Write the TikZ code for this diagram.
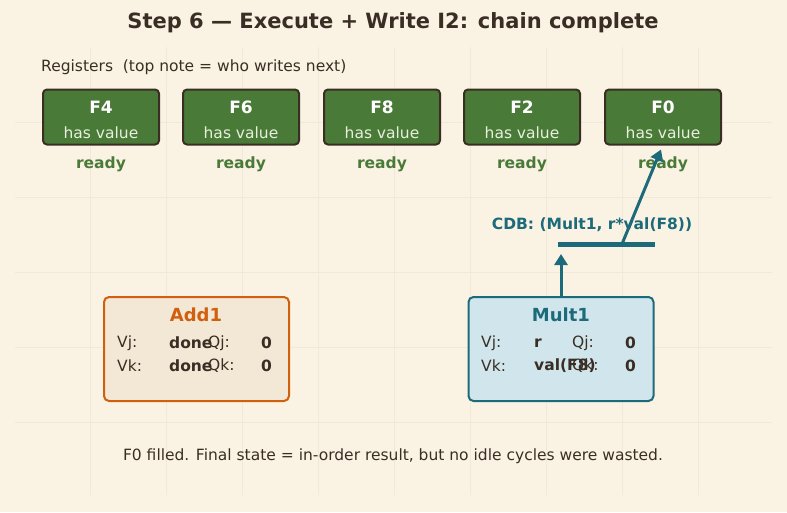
\documentclass[tikz,border=0pt]{standalone}
\usepackage{fontspec}
\setmainfont{DejaVu Sans}
\usetikzlibrary{arrows.meta}
\definecolor{paper}{HTML}{FAF3E4}
\definecolor{gridc}{HTML}{F1E9D8}
\definecolor{ink}{HTML}{3A2E24}
\definecolor{regfill}{HTML}{4A7A38}
\definecolor{regtxt}{HTML}{E6F0DC}
\definecolor{readyc}{HTML}{4A7A38}
\definecolor{teal}{HTML}{1D6A7A}
\definecolor{tealfill}{HTML}{D0E6EC}
\definecolor{orng}{HTML}{D0600E}
\definecolor{orngfill}{HTML}{F3E8D6}
\tikzset{
  reg/.style={draw=ink, line width=2pt, fill=regfill, rounded corners=4pt,
    minimum width=116pt, minimum height=55pt},
  rs/.style={line width=2pt, rounded corners=5pt, minimum width=185pt, minimum height=104pt},
  txt/.style={font=\fontsize{15.5}{18}\selectfont, text=ink, inner sep=0pt},
  btxt/.style={txt, font=\fontsize{15.5}{18}\selectfont\bfseries},
  cdbarrow/.style={teal, line width=3pt, -{Triangle[length=11pt, width=13pt]}}
}
\begin{document}
\begin{tikzpicture}[x=1pt, y=-1pt]
  \fill[paper] (0,0) rectangle (787,512);
  \useasboundingbox (0,0) rectangle (787,512);
  % faint grid
  \foreach \gx in {90,166,242,318,394,470,546,622,698}
    \draw[gridc, line width=0.8pt] (\gx,47) -- (\gx,495);
  \foreach \gy in {122,197,272,347,422}
    \draw[gridc, line width=0.8pt] (15,\gy) -- (772,\gy);

  \node[font=\fontsize{21}{24}\selectfont\bfseries, text=ink] (title) at (393,23) {Step 6 — Execute + Write I2: chain complete};
  \node[txt, anchor=west] (reglabel) at (41,67) {Registers\ \ (top note = who writes next)};

  % registers
  \foreach \name/\rx in {F4/101, F6/241, F8/382, F2/522, F0/663} {
    \node[reg] (r\name) at (\rx,117) {};
    \node[font=\fontsize{17}{20}\selectfont\bfseries, text=white] at (\rx,107) {\name};
    \node[font=\fontsize{15.5}{18}\selectfont, text=regtxt] at (\rx,133) {has value};
    \node[btxt, text=readyc] at (\rx,164) {ready};
  }

  % reservation stations
  \node[rs, draw=orng, fill=orngfill] (add1) at (196.5,349) {};
  \node[font=\fontsize{18}{21}\selectfont\bfseries, text=orng] at (196,315) {Add1};
  \node[txt, anchor=west] at (117,343) {Vj:};
  \node[btxt, anchor=west] at (169,343) {done};
  \node[txt, anchor=west] at (208,343) {Qj:};
  \node[btxt, anchor=east] at (272,343) {0};
  \node[txt, anchor=west] at (117,366) {Vk:};
  \node[btxt, anchor=west] at (169,366) {done};
  \node[txt, anchor=west] at (208,366) {Qk:};
  \node[btxt, anchor=east] at (272,366) {0};

  \node[rs, draw=teal, fill=tealfill] (mult1) at (561,349) {};
  \node[font=\fontsize{18}{21}\selectfont\bfseries, text=teal] at (561,315) {Mult1};
  \node[txt, anchor=west] at (481,343) {Vj:};
  \node[btxt, anchor=west] at (534,343) {r};
  \node[txt, anchor=west] at (572,343) {Qj:};
  \node[btxt, anchor=east] at (636,343) {0};
  \node[txt, anchor=west] at (481,366) {Vk:};
  \node[btxt, anchor=west] at (534,366) {val(F8)};
  \node[txt, anchor=west] at (572,366) {Qk:};
  \node[btxt, anchor=east] at (636,366) {0};

  % common data bus
  \node[btxt, text=teal] (cdblabel) at (592,225) {CDB: (Mult1, r*val(F8))};
  \coordinate (busL) at (558,244);
  \coordinate (busR) at (655,244);
  \coordinate (busIn) at (561,244);
  \coordinate (busOut) at (622,244);
  \draw[teal, line width=5pt] (busL) -- (busR);
  \draw[cdbarrow] (mult1.north -| busIn) -- ([yshift=-10pt]busIn);
  \draw[cdbarrow] (busOut) -- ([xshift=-2pt,yshift=-4pt]rF0.south);

  \node[txt] (footer) at (393,456) {F0 filled. Final state = in-order result, but no idle cycles were wasted.};
\end{tikzpicture}
\end{document}
